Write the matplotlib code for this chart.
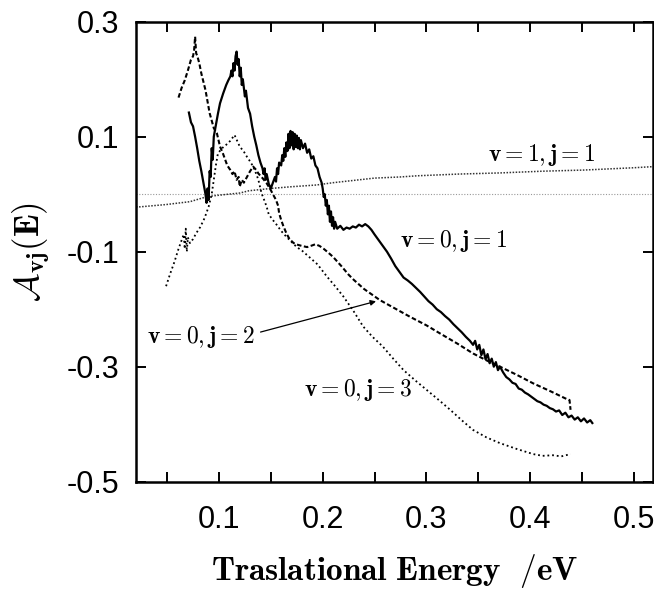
import matplotlib
matplotlib.use("Agg")
import matplotlib.pyplot as plt
from matplotlib.ticker import FixedLocator

plt.rcParams['mathtext.fontset'] = 'cm'

# v=0, j=1 (solid)
e_01 = [0.071, 0.073, 0.075, 0.077, 0.079, 0.081, 0.083, 0.085, 0.087, 0.088, 0.089, 0.090, 0.091, 0.092,
        0.093, 0.094, 0.095, 0.097, 0.099, 0.101, 0.104, 0.107, 0.109, 0.111, 0.112, 0.113, 0.114, 0.115,
        0.116, 0.117, 0.118, 0.119, 0.120, 0.121, 0.122, 0.123, 0.125, 0.126, 0.128, 0.130, 0.132, 0.134,
        0.136, 0.138, 0.140, 0.142, 0.143, 0.144, 0.145, 0.146, 0.148, 0.150, 0.152, 0.154, 0.155, 0.156,
        0.157, 0.158, 0.160, 0.161, 0.162, 0.163, 0.164, 0.165, 0.166, 0.167, 0.168, 0.169, 0.170, 0.171,
        0.172, 0.173, 0.174, 0.175, 0.176, 0.177, 0.178, 0.179, 0.181, 0.183, 0.185, 0.187, 0.189, 0.191,
        0.193, 0.195, 0.197, 0.199, 0.200, 0.201, 0.202, 0.203, 0.204, 0.205, 0.206, 0.207, 0.208, 0.209,
        0.210, 0.211, 0.212, 0.214, 0.217, 0.220, 0.223, 0.226, 0.229, 0.232, 0.235, 0.238, 0.241, 0.244,
        0.247, 0.250, 0.254, 0.258, 0.262, 0.266, 0.270, 0.274, 0.278, 0.282, 0.286, 0.290, 0.294, 0.298,
        0.302, 0.306, 0.310, 0.314, 0.318, 0.322, 0.326, 0.330, 0.334, 0.338, 0.342, 0.345, 0.347, 0.349,
        0.351, 0.353, 0.355, 0.357, 0.359, 0.361, 0.363, 0.365, 0.367, 0.369, 0.371, 0.374, 0.377, 0.380,
        0.383, 0.386, 0.389, 0.392, 0.395, 0.398, 0.401, 0.404, 0.407, 0.410, 0.413, 0.416, 0.419, 0.422,
        0.425, 0.428, 0.431, 0.434, 0.437, 0.440, 0.443, 0.446, 0.449, 0.452, 0.455, 0.458, 0.460]
a_01 = [0.142, 0.125, 0.118, 0.100, 0.080, 0.058, 0.040, 0.020, 0.000, -0.015, 0.010, -0.010, 0.040, 0.030,
        0.080, 0.060, 0.100, 0.120, 0.140, 0.158, 0.175, 0.190, 0.198, 0.205, 0.215, 0.205, 0.228, 0.215,
        0.240, 0.248, 0.225, 0.235, 0.205, 0.220, 0.190, 0.200, 0.170, 0.180, 0.150, 0.140, 0.118, 0.100,
        0.085, 0.068, 0.055, 0.045, 0.035, 0.045, 0.025, 0.035, 0.018, 0.010, 0.020, 0.030, 0.022, 0.045,
        0.035, 0.055, 0.050, 0.068, 0.058, 0.080, 0.065, 0.090, 0.075, 0.105, 0.080, 0.110, 0.085, 0.108,
        0.078, 0.105, 0.082, 0.102, 0.080, 0.098, 0.078, 0.094, 0.080, 0.088, 0.072, 0.078, 0.062, 0.066,
        0.050, 0.045, 0.030, 0.020, 0.010, -0.005, 0.000, -0.020, -0.010, -0.035, -0.020, -0.048, -0.030, -0.055,
        -0.040, -0.060, -0.048, -0.060, -0.055, -0.062, -0.058, -0.060, -0.056, -0.058, -0.053, -0.056, -0.052, -0.056,
        -0.062, -0.070, -0.080, -0.090, -0.100, -0.112, -0.125, -0.135, -0.145, -0.150, -0.156, -0.163, -0.170, -0.178,
        -0.186, -0.192, -0.200, -0.205, -0.212, -0.218, -0.226, -0.233, -0.240, -0.248, -0.255, -0.262, -0.255, -0.270,
        -0.262, -0.280, -0.270, -0.287, -0.278, -0.294, -0.286, -0.300, -0.292, -0.306, -0.300, -0.310, -0.318, -0.322,
        -0.328, -0.330, -0.338, -0.340, -0.345, -0.348, -0.352, -0.356, -0.360, -0.362, -0.366, -0.368, -0.372, -0.374,
        -0.378, -0.376, -0.384, -0.380, -0.388, -0.385, -0.392, -0.388, -0.395, -0.390, -0.397, -0.393, -0.398]

# v=0, j=2 (dashed)
e_02 = [0.061, 0.064, 0.067, 0.070, 0.073, 0.075, 0.076, 0.077, 0.078, 0.079, 0.081, 0.083, 0.087, 0.091,
        0.095, 0.098, 0.101, 0.104, 0.106, 0.108, 0.111, 0.113, 0.115, 0.117, 0.119, 0.120, 0.122, 0.124,
        0.127, 0.130, 0.133, 0.136, 0.138, 0.142, 0.146, 0.150, 0.152, 0.155, 0.157, 0.158, 0.160, 0.162,
        0.165, 0.168, 0.172, 0.176, 0.180, 0.185, 0.190, 0.193, 0.197, 0.201, 0.205, 0.210, 0.218, 0.225,
        0.230, 0.240, 0.255, 0.270, 0.284, 0.300, 0.313, 0.330, 0.345, 0.358, 0.371, 0.387, 0.403, 0.420,
        0.435, 0.438, 0.439]
a_02 = [0.168, 0.185, 0.198, 0.215, 0.234, 0.240, 0.250, 0.274, 0.245, 0.241, 0.228, 0.210, 0.181, 0.141,
        0.115, 0.106, 0.083, 0.070, 0.060, 0.050, 0.042, 0.035, 0.040, 0.025, 0.030, 0.013, 0.025, 0.020,
        0.030, 0.040, 0.048, 0.042, 0.036, 0.028, 0.019, 0.007, 0.000, -0.010, -0.020, -0.033, -0.045, -0.055,
        -0.068, -0.078, -0.085, -0.088, -0.090, -0.092, -0.089, -0.087, -0.090, -0.095, -0.101, -0.109, -0.125, -0.140,
        -0.149, -0.165, -0.184, -0.199, -0.213, -0.228, -0.242, -0.260, -0.277, -0.289, -0.300, -0.314, -0.329, -0.343,
        -0.356, -0.358, -0.375]

# v=0, j=3 (dotted)
e_03 = [0.049, 0.053, 0.057, 0.061, 0.064, 0.066, 0.067, 0.068, 0.069, 0.070, 0.072, 0.075, 0.078, 0.082,
        0.086, 0.090, 0.093, 0.095, 0.097, 0.099, 0.103, 0.107, 0.111, 0.115, 0.117, 0.120, 0.124, 0.127,
        0.130, 0.133, 0.136, 0.138, 0.141, 0.144, 0.146, 0.148, 0.152, 0.156, 0.160, 0.165, 0.170, 0.175,
        0.180, 0.185, 0.190, 0.195, 0.204, 0.212, 0.220, 0.230, 0.239, 0.248, 0.258, 0.268, 0.278, 0.290,
        0.300, 0.312, 0.323, 0.334, 0.345, 0.358, 0.371, 0.387, 0.403, 0.412, 0.422, 0.430, 0.439]
a_03 = [-0.160, -0.138, -0.118, -0.095, -0.080, -0.070, -0.095, -0.060, -0.100, -0.075, -0.085, -0.078, -0.068, -0.057,
        -0.042, -0.022, 0.000, 0.025, 0.050, 0.071, 0.080, 0.086, 0.093, 0.103, 0.095, 0.083, 0.074, 0.065,
        0.057, 0.048, 0.035, 0.025, 0.002, -0.012, -0.022, -0.035, -0.045, -0.054, -0.064, -0.074, -0.083, -0.092,
        -0.098, -0.106, -0.114, -0.122, -0.143, -0.160, -0.178, -0.204, -0.230, -0.248, -0.265, -0.286, -0.306, -0.325,
        -0.340, -0.358, -0.375, -0.393, -0.410, -0.423, -0.433, -0.443, -0.452, -0.455, -0.454, -0.456, -0.452]

# v=1, j=1 (fine dotted)
e_11 = [0.020, 0.024, 0.049, 0.072, 0.089, 0.109, 0.120, 0.129, 0.150, 0.170, 0.194, 0.210, 0.250, 0.275,
        0.291, 0.331, 0.371, 0.412, 0.452, 0.500, 0.519]
a_11 = [-0.022, -0.022, -0.018, -0.013, -0.004, 0.000, 0.002, 0.006, 0.010, 0.013, 0.016, 0.020, 0.028, 0.030,
        0.032, 0.035, 0.037, 0.040, 0.042, 0.046, 0.048]

x_ticks = [0.05, 0.1, 0.15, 0.2, 0.25, 0.3, 0.35, 0.4, 0.45, 0.5]
x_labels = ['', '0.1', '', '0.2', '', '0.3', '', '0.4', '', '0.5']
y_ticks = [-0.5, -0.3, -0.1, 0.1, 0.3]
y_labels = ['-0.5', '-0.3', '-0.1', '0.1', '0.3']

fig = plt.figure(figsize=(6.54, 5.93), dpi=100)
ax = fig.add_axes([136 / 654, 111.3 / 593, 517 / 654, 460 / 593])

ax.axhline(0.0, color='#999999', lw=0.8, ls=(0, (1, 1.5)))
ax.plot(e_11, a_11, color='#333333', lw=1.1, ls=(0, (1, 1)))
ax.plot(e_03, a_03, color='black', lw=1.3, ls=(0, (1, 1.6)))
ax.plot(e_02, a_02, color='black', lw=1.5, ls=(0, (2.2, 1.2)))
ax.plot(e_01, a_01, color='black', lw=1.6)

lab = dict(fontsize=17, color='black')
ax.text(0.359, 0.069, r'$\mathbf{v=1,j=1}$', va='center', ha='left', **lab)
ax.text(0.2746, -0.0815, r'$\mathbf{v=0,j=1}$', va='center', ha='left', **lab)
ax.text(0.0306, -0.248, r'$\mathbf{v=0,j=2}$', va='center', ha='left', **lab)
ax.text(0.182, -0.340, r'$\mathbf{v=0,j=3}$', va='center', ha='left', **lab)
ax.annotate('', xy=(0.254, -0.185), xytext=(0.1375, -0.241),
            arrowprops=dict(arrowstyle='-|>', lw=0.9, color='black', mutation_scale=8))

ax.set_xlim(0.02, 0.5185)
ax.set_ylim(-0.5, 0.3)
ax.xaxis.set_major_locator(FixedLocator(x_ticks))
ax.set_xticklabels(x_labels)
ax.yaxis.set_major_locator(FixedLocator(y_ticks))
ax.set_yticklabels(y_labels)
ax.tick_params(direction='in', length=7, width=1.4, top=True, right=True, labelsize=22)
ax.tick_params(axis='x', pad=17)
ax.tick_params(axis='y', pad=12)
for lbl in ax.get_xticklabels() + ax.get_yticklabels():
    lbl.set_family('Liberation Sans')
for s in ax.spines.values():
    s.set_linewidth(1.8)

ax.set_xlabel(r'$\mathbf{Traslational\ Energy\ \ /eV}$', fontsize=24, labelpad=12)
ax.set_ylabel(r'$\mathcal{A}_{\mathbf{vj}}(\mathbf{E})$', fontsize=25, labelpad=10)

fig.savefig('out.png', dpi=100)
